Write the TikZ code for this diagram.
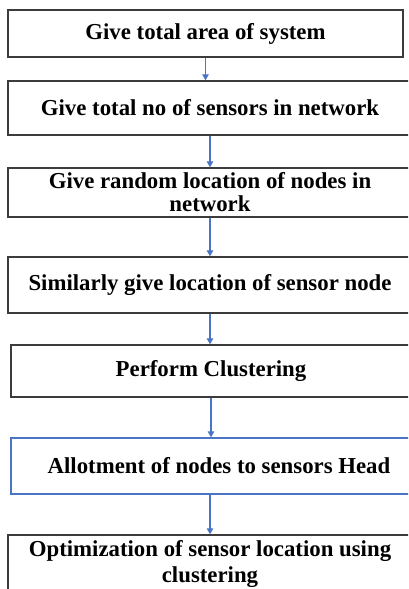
\documentclass[tikz,border=0pt]{standalone}
\usepackage{fontspec}
\setmainfont{Liberation Serif}
\usetikzlibrary{arrows.meta}
\definecolor{boxgray}{HTML}{3C3C3C}
\definecolor{flowblue}{HTML}{4A74C6}
\tikzset{
  stepbox/.style={draw=boxgray, line width=1.4pt, inner sep=0pt, align=center,
    font=\bfseries\fontsize{22.8}{23}\selectfont},
  flow/.style={draw=flowblue, line width=1.1pt, -{Triangle[length=6pt,width=6.5pt]}}
}
\begin{document}
\begin{tikzpicture}[x=1pt, y=-1pt]

\useasboundingbox (0,0) rectangle (408,589);
\clip (0,0) rectangle (408,589);

\node[stepbox, minimum width=395pt, minimum height=47pt](area) at (205.5,33.5) {Give total area of system};
\node[stepbox, minimum width=404pt, minimum height=54pt](total) at (210,108) {Give total no of sensors in network};
\node[stepbox, minimum width=404pt, minimum height=49pt](random) at (210,192.5) {Give random location of nodes in\\network};
\node[stepbox, minimum width=404pt, minimum height=56pt](similar) at (210,285) {Similarly give location of sensor node};
\node[stepbox, minimum width=400pt, minimum height=52pt](cluster) at (211,371) {Perform Clustering};
\node[stepbox, draw=flowblue, minimum width=416pt, minimum height=56pt](allot) at (219,466) {Allotment of nodes to sensors Head};
\node[stepbox, minimum width=404pt, minimum height=58pt, font=\bfseries\fontsize{22.8}{25.5}\selectfont](optim) at (210,564) {Optimization of sensor location using\\clustering};

\draw[flow](area) -- (area |- total.north);
\draw[flow](total) -- (total |- random.north);
\draw[flow](random) -- (random |- similar.north);
\draw[flow](similar) -- (similar |- cluster.north);
\draw[flow](cluster) -- (cluster |- allot.north);
\draw[flow](optim |- allot.south) -- (optim.north);

\end{tikzpicture}
\end{document}
